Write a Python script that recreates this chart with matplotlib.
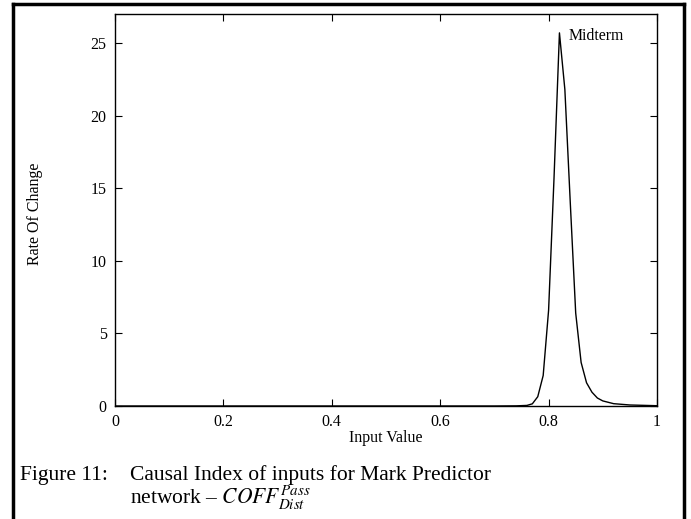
import matplotlib
matplotlib.use("Agg")
import matplotlib.pyplot as plt
from matplotlib.lines import Line2D

plt.rcParams['font.family'] = ['Liberation Serif', 'DejaVu Serif']
plt.rcParams['mathtext.fontset'] = 'stix'

# Data
x_vals = [0.0, 0.10, 0.20, 0.30, 0.40, 0.50, 0.60, 0.70, 0.74, 0.76, 0.77, 0.78, 0.79, 0.80,
          0.81, 0.82, 0.83, 0.84, 0.85, 0.86, 0.87, 0.88, 0.89, 0.90, 0.92, 0.95, 1.00]
y_vals = [0.0, 0.0, 0.0, 0.0, 0.0, 0.0, 0.0, 0.0, 0.01, 0.04, 0.15, 0.64, 2.1, 6.6,
          15.7, 25.7, 21.8, 14.0, 6.4, 3.0, 1.6, 0.95, 0.55, 0.35, 0.16, 0.07, 0.02]
x_ticks = [0, 0.2, 0.4, 0.6, 0.8, 1]
x_tick_labels = ["0", "0.2", "0.4", "0.6", "0.8", "1"]
y_ticks = [0, 5, 10, 15, 20, 25]

W, H = 691, 519
fig = plt.figure(figsize=(W / 100, H / 100), dpi=100)
ax = fig.add_axes([115 / W, 1 - 406 / H, (657 - 115) / W, (406 - 14) / H])

ax.plot(x_vals, y_vals, color='black', lw=1.0)
ax.set_xlim(0, 1)
ax.set_ylim(0, 27)
ax.set_xticks(x_ticks)
ax.set_xticklabels(x_tick_labels)
ax.set_yticks(y_ticks)
ax.tick_params(direction='in', top=True, right=True, labelsize=11.5, length=5, width=0.8)
ax.tick_params(axis='x', pad=6)
ax.tick_params(axis='y', pad=6)
for s in ax.spines.values():
    s.set_linewidth(1.0)
ax.set_xlabel("Input Value", fontsize=11.5)
ax.xaxis.set_label_coords(0.5, -0.062)
ax.set_ylabel("Rate Of Change", fontsize=11.5)
ax.yaxis.set_label_coords(-0.133, 0.49)
ax.text(0.836, 25.5, "Midterm", fontsize=11.3, va='center', ha='left')

# outer frame (left, top, right)
lw = 2.5
fig.add_artist(Line2D([13 / W, 13 / W], [0, 1 - 4 / H], color='black', lw=lw))
fig.add_artist(Line2D([13 / W, 684 / W], [1 - 4 / H, 1 - 4 / H], color='black', lw=lw))
fig.add_artist(Line2D([684 / W, 684 / W], [0, 1 - 4 / H], color='black', lw=lw))

fs = 15.5
fig.text(20 / W, 1 - 480 / H, "Figure 11:", fontsize=fs, ha='left', va='baseline')
fig.text(130 / W, 1 - 480 / H, "Causal Index of inputs for Mark Predictor",
         fontsize=fs, ha='left', va='baseline')
fig.text(130 / W, 1 - 504 / H,
         r"network – $\mathit{COFF}_{\mathit{Dist}}^{\mathit{Pass}}$",
         fontsize=fs, ha='left', va='baseline')

fig.savefig("out.png", dpi=100)
